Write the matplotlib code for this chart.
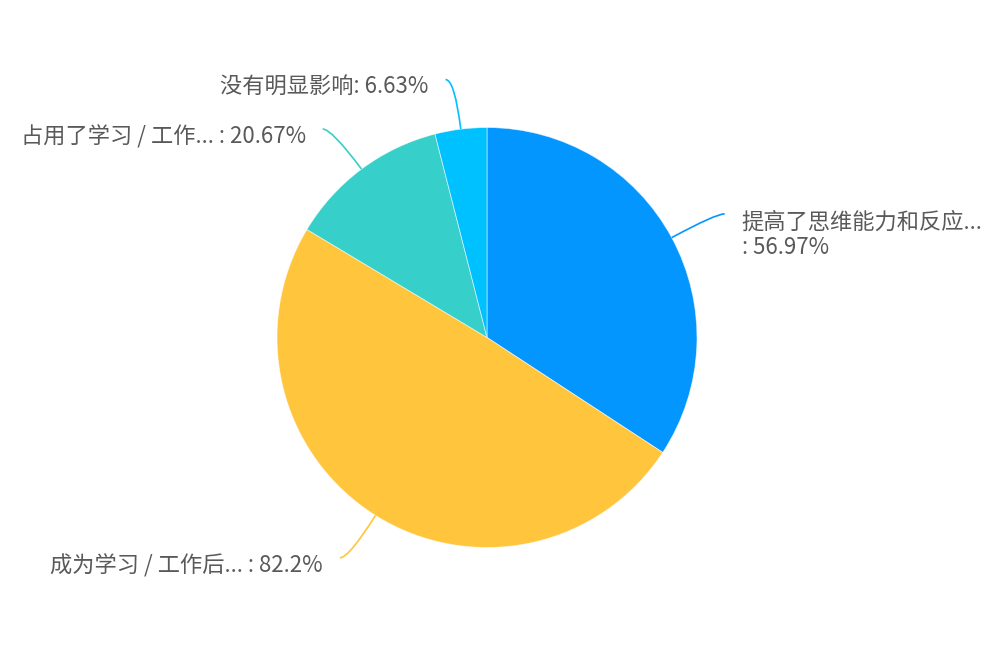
import numpy as np
import matplotlib
matplotlib.use("Agg")
import matplotlib.pyplot as plt
from matplotlib.path import Path
from matplotlib.patches import PathPatch

plt.rcParams['font.family'] = ['Noto Sans CJK SC', 'DejaVu Sans']

# ---- data ----
names = ["提高了思维能力和反应...", "成为学习 / 工作后... ", "占用了学习 / 工作... ", "没有明显影响"]
values = [56.97, 82.2, 20.67, 6.63]
seps = ["\n: ", ": ", ": ", ": "]
colors = ["#0496FF", "#FFC53D", "#36CFC9", "#00C1FF"]

# ---- layout ----
W, H = 1000, 666
CX, CY, R = 487, 666 - 337.5, 210
L1, L2, GAP = 50, 9, 17
TEXT = "#595959"

fig = plt.figure(figsize=(W / 100, H / 100), dpi=100)
ax = fig.add_axes([0, 0, 1, 1])
ax.set_xlim(0, W)
ax.set_ylim(0, H)
ax.set_aspect('equal')
ax.axis('off')

wedges, _ = ax.pie(values, colors=colors, startangle=90, counterclock=False,
                   center=(CX, CY), radius=R,
                   wedgeprops=dict(edgecolor=(1, 1, 1, 0.6), linewidth=0.6))
ax.set_xlim(0, W)
ax.set_ylim(0, H)

for w, name, v, sep, c in zip(wedges, names, values, seps, colors):
    mid = np.deg2rad((w.theta1 + w.theta2) / 2)
    p0 = (CX + R * np.cos(mid), CY + R * np.sin(mid))
    p1 = (CX + (R + L1) * np.cos(mid), CY + (R + L1) * np.sin(mid))
    side = 1 if np.cos(mid) >= 0 else -1
    p2 = (p1[0] + side * L2, p1[1])
    path = Path([p0, p1, p2], [Path.MOVETO, Path.CURVE3, Path.CURVE3])
    ax.add_patch(PathPatch(path, facecolor='none', edgecolor=c, lw=1.2))
    label = f"{name}{sep}{v}%"
    ax.text(p2[0] + side * GAP, p2[1] + 3.5, label,
            ha='left' if side > 0 else 'right', va='top',
            fontsize=16, color=TEXT, linespacing=1.15)

fig.savefig("out.png", dpi=100)
